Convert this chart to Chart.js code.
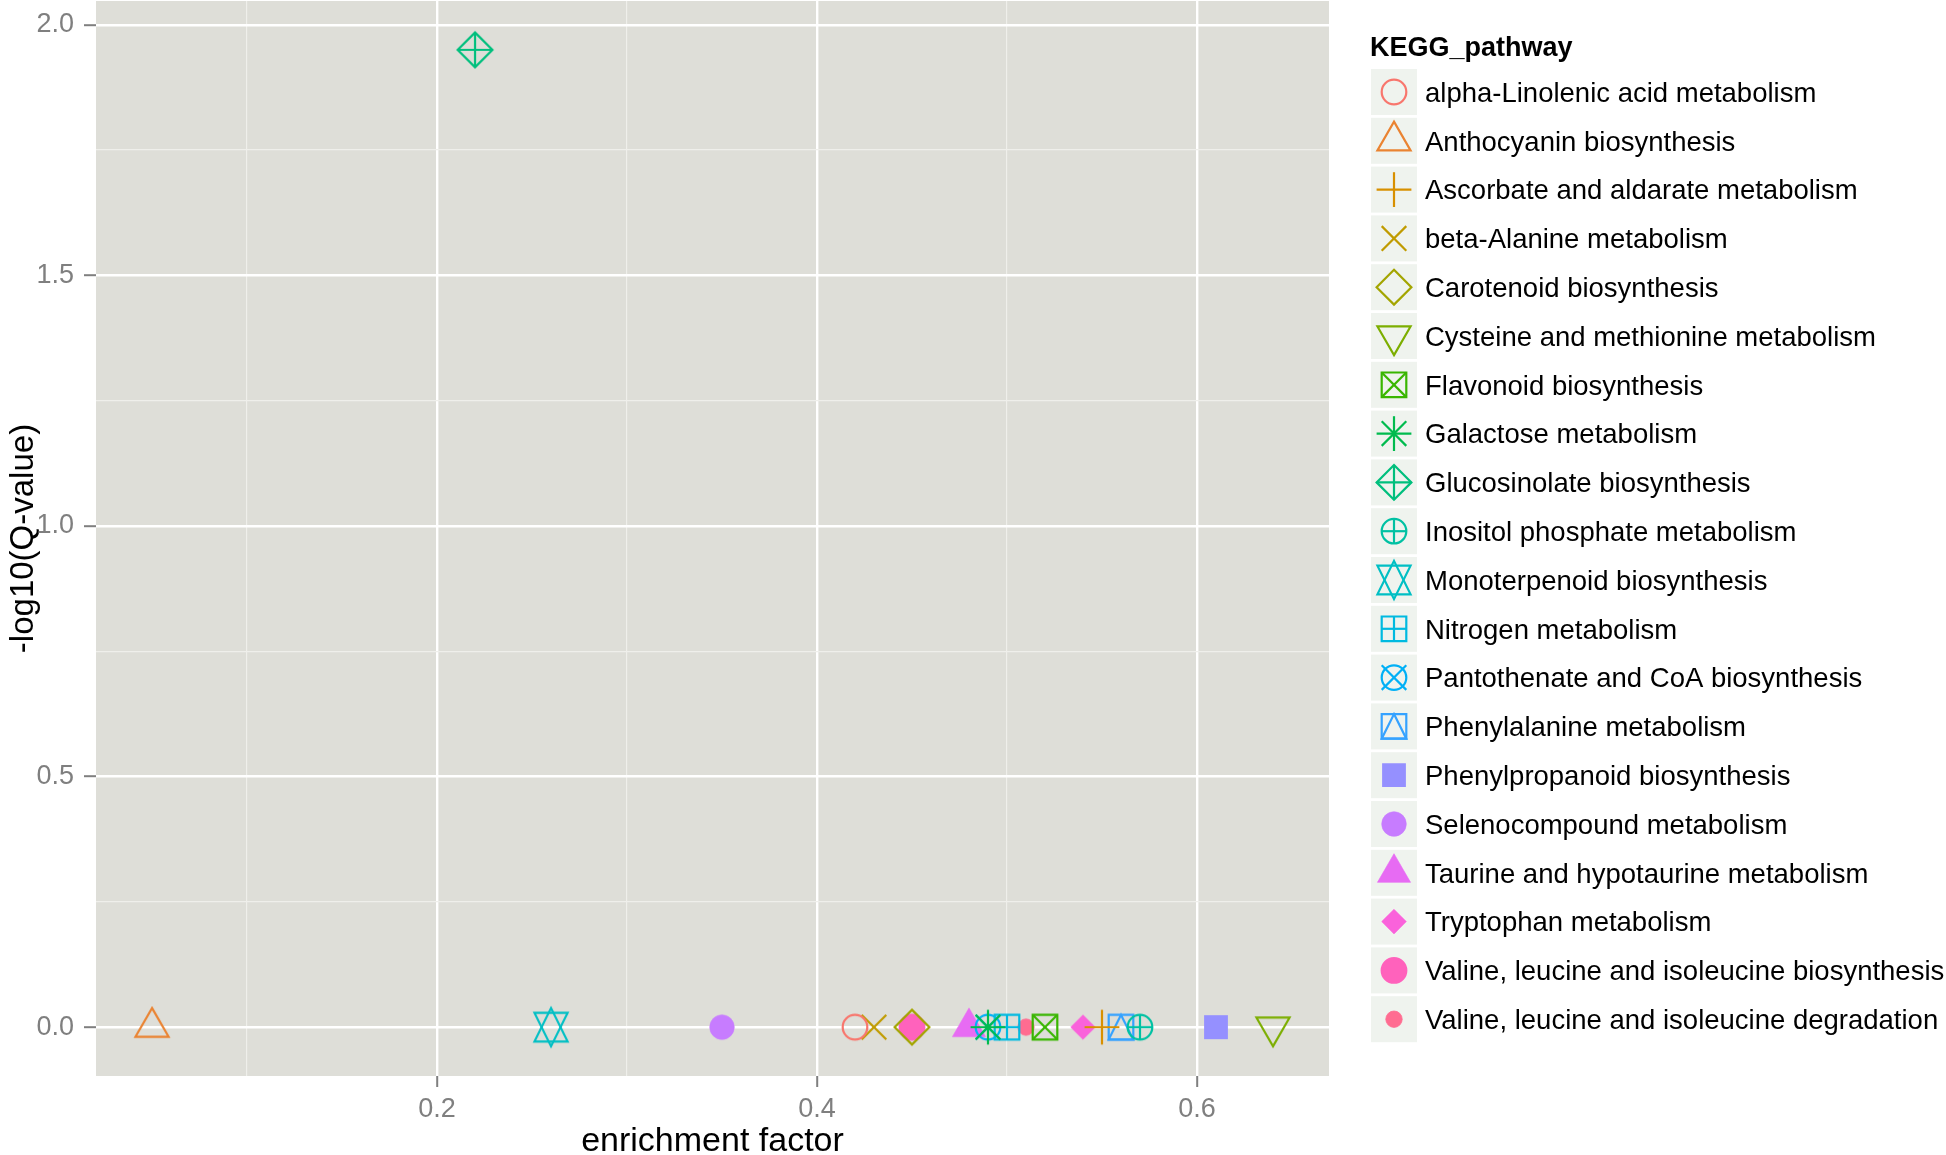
<!DOCTYPE html>
<html>
<head>
<meta charset="utf-8">
<title>KEGG pathway enrichment</title>
<script src="https://cdn.jsdelivr.net/npm/chart.js@4.4.1/dist/chart.umd.min.js"></script>
<style>
  html, body { margin: 0; padding: 0; background: #fff; }
  canvas { display: block; }
</style>
</head>
<body>
<canvas id="chart" width="1946" height="1155"></canvas>
<script>
const pathways = [
  "alpha-Linolenic acid metabolism",
  "Anthocyanin biosynthesis",
  "Ascorbate and aldarate metabolism",
  "beta-Alanine metabolism",
  "Carotenoid biosynthesis",
  "Cysteine and methionine metabolism",
  "Flavonoid biosynthesis",
  "Galactose metabolism",
  "Glucosinolate biosynthesis",
  "Inositol phosphate metabolism",
  "Monoterpenoid biosynthesis",
  "Nitrogen metabolism",
  "Pantothenate and CoA biosynthesis",
  "Phenylalanine metabolism",
  "Phenylpropanoid biosynthesis",
  "Selenocompound metabolism",
  "Taurine and hypotaurine metabolism",
  "Tryptophan metabolism",
  "Valine, leucine and isoleucine biosynthesis",
  "Valine, leucine and isoleucine degradation"
];
const enrichmentFactor = [0.42, 0.05, 0.55, 0.43, 0.45, 0.64, 0.52, 0.49, 0.22, 0.57,
                          0.26, 0.50, 0.49, 0.56, 0.61, 0.35, 0.48, 0.54, 0.45, 0.51];
const negLog10Q = [0, 0, 0, 0, 0, 0, 0, 0, 1.95, 0,
                   0, 0, 0, 0, 0, 0, 0, 0, 0, 0];
const shapeCodes = [1, 2, 3, 4, 5, 6, 7, 8, 9, 10, 11, 12, 13, 14, 15, 16, 17, 18, 19, 20];
const hueColors = ["#F8766D", "#EA8331", "#D89000", "#C09B00", "#A3A500", "#7CAE00", "#39B600",
                   "#00BB4E", "#00BF7D", "#00C1A3", "#00BFC4", "#00BAE0", "#00B0F6", "#35A2FF",
                   "#9590FF", "#C77CFF", "#E76BF3", "#FA62DB", "#FF62BC", "#FF6C91"];
const xMajorTicks = [0.2, 0.4, 0.6];
const xMinorTicks = [0.1, 0.3, 0.5];
const yMajorTicks = [0, 0.5, 1.0, 1.5, 2.0];
const yMinorTicks = [0.25, 0.75, 1.25, 1.75];

const FONT = "'Liberation Sans', Arial, Helvetica, sans-serif";
const PANEL_BG = "#DEDED8";
const KEY_BG = "#EFF3EE";
const R = 12.3;

// ggplot-like range expansion (5% each side)
function expandRange(values, mult = 0.05) {
  const lo = Math.min(...values), hi = Math.max(...values);
  const pad = (hi - lo) * mult;
  return [lo - pad, hi + pad];
}

function isMajor(v, list) {
  return list.some(m => Math.abs(m - v) < 1e-9);
}

// draws an R pch symbol centred on x, y
function drawPch(ctx, pch, x, y, color) {
  const t0 = 1.5551 * R, t1 = 1.3468 * R, t2 = 0.7776 * R;
  const s2 = Math.SQRT2 * R;
  ctx.save();
  ctx.strokeStyle = color;
  ctx.fillStyle = color;
  ctx.lineWidth = 2.2;
  ctx.lineJoin = "miter";
  ctx.lineCap = "butt";
  const line = (x1, y1, x2, y2) => { ctx.beginPath(); ctx.moveTo(x1, y1); ctx.lineTo(x2, y2); ctx.stroke(); };
  const circle = r => { ctx.beginPath(); ctx.arc(x, y, r, 0, 2 * Math.PI); };
  const poly = pts => {
    ctx.beginPath();
    pts.forEach(([px, py], i) => i ? ctx.lineTo(x + px, y + py) : ctx.moveTo(x + px, y + py));
    ctx.closePath();
  };
  const square = h => { ctx.beginPath(); ctx.rect(x - h, y - h, 2 * h, 2 * h); };
  const diamond = h => poly([[0, -h], [h, 0], [0, h], [-h, 0]]);
  const cross = h => { line(x - h, y, x + h, y); line(x, y - h, x, y + h); };
  const ex = h => { line(x - h, y - h, x + h, y + h); line(x - h, y + h, x + h, y - h); };

  switch (pch) {
    case 1: circle(R); ctx.stroke(); break;
    case 2: poly([[0, -t0], [t1, t2], [-t1, t2]]); ctx.stroke(); break;
    case 3: cross(s2); break;
    case 4: ex(R); break;
    case 5: diamond(s2); ctx.stroke(); break;
    case 6: poly([[0, t0], [t1, -t2], [-t1, -t2]]); ctx.stroke(); break;
    case 7: square(R); ctx.stroke(); ex(R); break;
    case 8: ex(R); cross(s2); break;
    case 9: diamond(s2); ctx.stroke(); cross(s2); break;
    case 10: circle(R); ctx.stroke(); cross(R); break;
    case 11: {
      const yc = 0.5 * (t2 + t0);
      poly([[0, -t0], [t1, yc], [-t1, yc]]); ctx.stroke();
      poly([[0, t0], [t1, -yc], [-t1, -yc]]); ctx.stroke();
      break;
    }
    case 12: square(R); ctx.stroke(); cross(R); break;
    case 13: circle(R); ctx.stroke(); ex(R); break;
    case 14: square(R); ctx.stroke(); poly([[0, -R], [R, R], [-R, R]]); ctx.stroke(); break;
    case 15: square(0.886 * R); ctx.fill(); ctx.lineWidth = 2; ctx.stroke(); break;
    case 16: circle(R); ctx.fill(); ctx.lineWidth = 0.6; ctx.stroke(); break;
    case 17: poly([[0, -t0], [t1, t2], [-t1, t2]]); ctx.fill(); ctx.lineWidth = 0.6; ctx.stroke(); break;
    case 18: diamond(R); ctx.fill(); ctx.lineWidth = 0.6; ctx.stroke(); break;
    case 19: circle(R); ctx.fill(); ctx.stroke(); break;
    case 20: circle(2 * R / 3); ctx.fill(); ctx.lineWidth = 0.8; ctx.stroke(); break;
  }
  ctx.restore();
}

function makeSymbol(pch, color) {
  const c = document.createElement("canvas");
  c.width = 48;
  c.height = 48;
  drawPch(c.getContext("2d"), pch, 24, 24, color);
  return c;
}

const xRange = expandRange(enrichmentFactor);
const yRange = expandRange(negLog10Q);

const datasets = pathways.map((name, i) => ({
  label: name,
  data: [{ x: enrichmentFactor[i], y: negLog10Q[i] }],
  pointStyle: makeSymbol(shapeCodes[i], hueColors[i]),
  pointRadius: 12,
  borderColor: hueColors[i],
  backgroundColor: hueColors[i]
}));

const panelBackground = {
  id: "panelBackground",
  beforeDraw(chart) {
    const { ctx, chartArea: a } = chart;
    ctx.save();
    ctx.fillStyle = PANEL_BG;
    ctx.fillRect(a.left, a.top, a.right - a.left, a.bottom - a.top);
    ctx.restore();
  }
};

const keggLegend = {
  id: "keggLegend",
  afterDraw(chart) {
    const ctx = chart.ctx;
    ctx.save();
    ctx.fillStyle = "#000";
    ctx.textBaseline = "alphabetic";
    ctx.textAlign = "left";
    ctx.font = "bold 27px " + FONT;
    ctx.fillText("KEGG_pathway", 1370, 56);
    ctx.font = "27.5px " + FONT;
    chart.data.datasets.forEach((ds, i) => {
      const cy = 92 + i * 48.8;
      ctx.fillStyle = KEY_BG;
      ctx.fillRect(1371, cy - 23, 46, 46);
      drawPch(ctx, shapeCodes[i], 1394, cy, hueColors[i]);
      ctx.fillStyle = "#000";
      ctx.fillText(ds.label, 1425, cy + 9.7);
    });
    ctx.restore();
  }
};

function gridColor(majors) {
  return c => isMajor(c.tick.value, majors) ? "#FFFFFF" : "#EFEFEB";
}
function gridWidth(majors) {
  return c => isMajor(c.tick.value, majors) ? 2.4 : 1.2;
}
function tickColor(majors) {
  return c => isMajor(c.tick.value, majors) ? "#7F7F7F" : "rgba(0,0,0,0)";
}

Chart.defaults.font.family = FONT;

new Chart(document.getElementById("chart").getContext("2d"), {
  type: "scatter",
  data: { datasets },
  plugins: [panelBackground, keggLegend],
  options: {
    responsive: false,
    animation: false,
    events: [],
    layout: { autoPadding: false, padding: { left: 0, top: 1, right: 617, bottom: 0 } },
    plugins: { legend: { display: false }, tooltip: { enabled: false } },
    scales: {
      x: {
        type: "linear",
        min: xRange[0],
        max: xRange[1],
        afterBuildTicks: s => {
          s.ticks = [...xMinorTicks, ...xMajorTicks].sort((a, b) => a - b).map(v => ({ value: v }));
        },
        afterFit: s => {
          s.height = 79;
          s.paddingLeft = 0; s.paddingRight = 0; s.paddingTop = 0; s.paddingBottom = 0;
        },
        border: { display: false },
        grid: {
          color: gridColor(xMajorTicks),
          lineWidth: gridWidth(xMajorTicks),
          tickLength: 11,
          tickColor: tickColor(xMajorTicks),
          tickWidth: 2
        },
        ticks: {
          callback: v => isMajor(v, xMajorTicks) ? v.toFixed(1) : "",
          color: "#7F7F7F",
          font: { size: 27 },
          padding: 6,
          maxRotation: 0,
          autoSkip: false
        },
        title: {
          display: true,
          text: "enrichment factor",
          color: "#000",
          font: { size: 34, lineHeight: 0.76 },
          padding: 0
        }
      },
      y: {
        type: "linear",
        min: yRange[0],
        max: yRange[1],
        afterBuildTicks: s => {
          s.ticks = [...yMinorTicks, ...yMajorTicks].sort((a, b) => a - b).map(v => ({ value: v }));
        },
        afterFit: s => {
          s.width = 96;
          s.paddingLeft = 0; s.paddingRight = 0; s.paddingTop = 0; s.paddingBottom = 0;
        },
        border: { display: false },
        grid: {
          color: gridColor(yMajorTicks),
          lineWidth: gridWidth(yMajorTicks),
          tickLength: 12,
          tickColor: tickColor(yMajorTicks),
          tickWidth: 2
        },
        ticks: {
          callback: v => isMajor(v, yMajorTicks) ? v.toFixed(1) : "",
          color: "#7F7F7F",
          font: { size: 27 },
          padding: 10,
          autoSkip: false
        },
        title: {
          display: true,
          text: "-log10(Q-value)",
          color: "#000",
          font: { size: 33, lineHeight: 1 },
          padding: { top: 7, bottom: 0 }
        }
      }
    }
  }
});
</script>
</body>
</html>
